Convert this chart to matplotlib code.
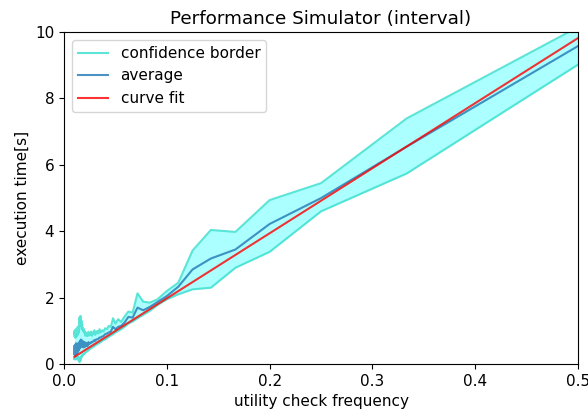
import matplotlib

matplotlib.use("Agg")

import matplotlib.pyplot as plt
import numpy as np

# check interval (every n-th step), frequency is 1/n
intervals = np.arange(2, 101)

upper = [
    10.15, 7.40, 5.45, 4.94, 3.98, 4.04, 3.42, 2.45, 2.20, 1.95,
    1.85, 1.88, 2.13, 1.55, 1.58, 1.43, 1.27, 1.35, 1.22, 1.38,
    1.12, 1.15, 1.05, 1.08, 0.98, 1.02, 0.95, 1.05, 0.92, 1.00,
    0.95, 0.88, 1.02, 0.90, 0.95, 0.85, 0.98, 0.88, 0.92, 0.86,
    0.97, 0.90, 0.84, 0.95, 0.88, 0.92, 0.85, 0.90, 1.00, 0.95,
    1.05, 0.98, 1.08, 1.02, 1.10, 1.20, 1.05, 1.30, 1.15, 1.42,
    1.25, 1.45, 1.18, 1.38, 1.22, 1.40, 1.10, 1.00, 1.15, 0.95,
    1.08, 0.92, 1.02, 0.88, 1.12, 0.90, 0.98, 0.86, 1.05, 0.92,
    0.85, 1.00, 0.88, 0.95, 0.82, 1.05, 0.90, 0.80, 0.98, 0.86,
    0.92, 0.80, 1.02, 0.88, 0.95, 0.82, 0.90, 1.00, 0.95,
]

average = [
    9.58, 6.55, 5.00, 4.22, 3.45, 3.18, 2.85, 2.33, 2.05, 1.87,
    1.72, 1.62, 1.70, 1.40, 1.42, 1.25, 1.15, 1.12, 1.05, 1.12,
    0.98, 0.95, 0.92, 0.90, 0.85, 0.83, 0.80, 0.80, 0.76, 0.75,
    0.74, 0.70, 0.72, 0.68, 0.68, 0.65, 0.66, 0.63, 0.62, 0.60,
    0.66, 0.56, 0.62, 0.54, 0.64, 0.55, 0.60, 0.52, 0.66, 0.54,
    0.63, 0.50, 0.68, 0.55, 0.64, 0.70, 0.52, 0.72, 0.56, 0.74,
    0.58, 0.70, 0.50, 0.68, 0.48, 0.66, 0.44, 0.60, 0.42, 0.62,
    0.40, 0.58, 0.38, 0.60, 0.36, 0.56, 0.40, 0.62, 0.35, 0.58,
    0.32, 0.60, 0.36, 0.55, 0.30, 0.62, 0.34, 0.56, 0.28, 0.58,
    0.32, 0.54, 0.26, 0.56, 0.30, 0.52, 0.28, 0.55, 0.30,
]

lower = [
    9.02, 5.74, 4.60, 3.38, 2.90, 2.30, 2.25, 2.10, 1.95, 1.78,
    1.60, 1.48, 1.38, 1.28, 1.22, 1.12, 1.05, 1.00, 0.95, 0.90,
    0.86, 0.82, 0.78, 0.75, 0.72, 0.70, 0.66, 0.64, 0.62, 0.60,
    0.58, 0.56, 0.54, 0.52, 0.51, 0.49, 0.48, 0.46, 0.45, 0.43,
    0.42, 0.40, 0.39, 0.38, 0.37, 0.36, 0.34, 0.33, 0.32, 0.30,
    0.29, 0.28, 0.30, 0.26, 0.27, 0.24, 0.25, 0.20, 0.22, 0.15,
    0.18, 0.10, 0.16, 0.08, 0.12, 0.06, 0.14, 0.10, 0.18, 0.12,
    0.16, 0.20, 0.14, 0.18, 0.22, 0.16, 0.20, 0.15, 0.18, 0.22,
    0.17, 0.20, 0.15, 0.21, 0.18, 0.14, 0.19, 0.16, 0.20, 0.17,
    0.15, 0.19, 0.16, 0.18, 0.14, 0.17, 0.15, 0.18, 0.16,
]

# linear fit: time = slope * frequency + offset
fit_slope = 19.6
fit_offset = 0.02

freq = 1.0 / intervals

plt.rcParams["font.size"] = 11

fig = plt.figure(figsize=(5.88, 4.17), dpi=100)
ax = fig.add_axes([0.109, 0.127, 0.874, 0.796])

ax.fill_between(freq, lower, upper, color="cyan", alpha=0.33, linewidth=0)
ax.plot(freq, upper, color="turquoise", alpha=0.85, linewidth=1.5, label="confidence border")
ax.plot(freq, lower, color="turquoise", alpha=0.85, linewidth=1.5)
ax.plot(freq, average, color="tab:blue", alpha=0.8, linewidth=1.5, label="average")
ax.plot(freq, fit_slope * freq + fit_offset, color="red", alpha=0.8, linewidth=1.5, label="curve fit")

ax.set_xlim(0, 0.5)
ax.set_ylim(0, 10)
ax.set_title("Performance Simulator (interval)", fontsize=13.2)
ax.set_xlabel("utility check frequency")
ax.set_ylabel("execution time[s]")
ax.legend(loc="upper left")

fig.savefig("out.png", dpi=100)
plt.close(fig)
